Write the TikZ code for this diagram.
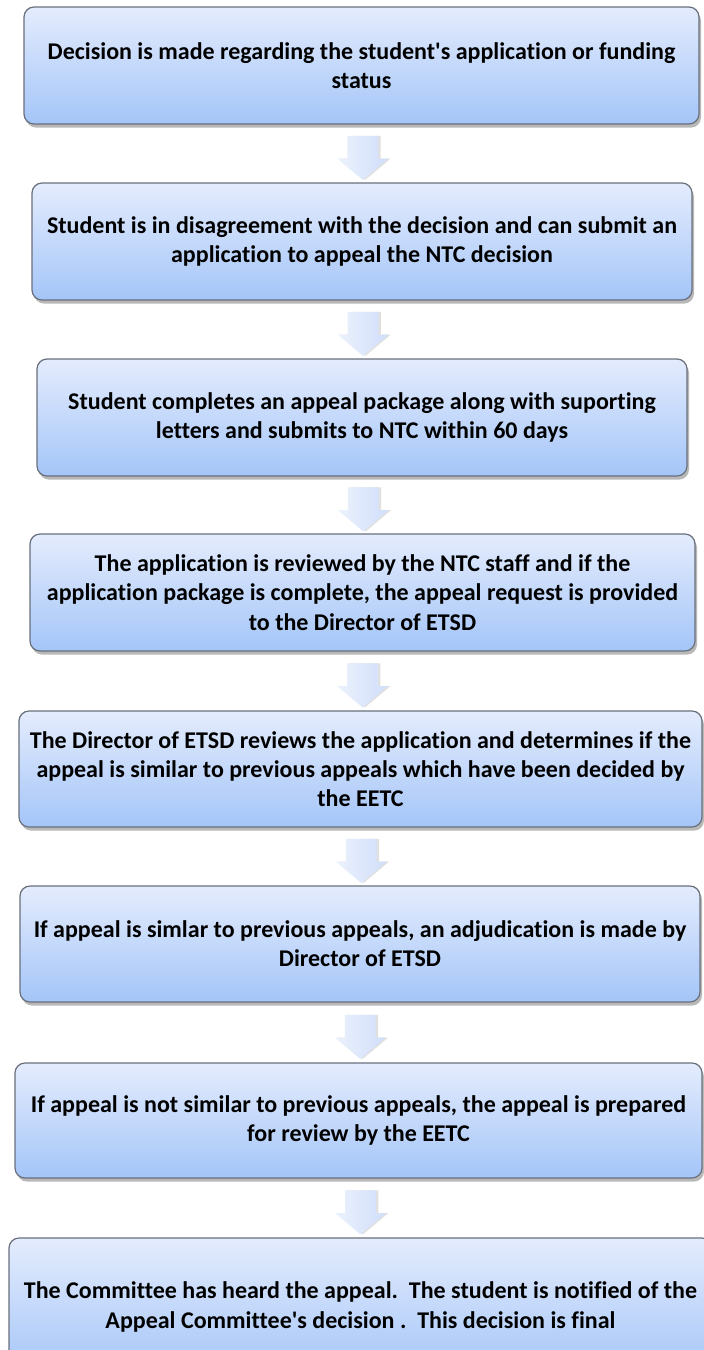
\documentclass[tikz,border=0pt]{standalone}
\usepackage{fontspec}
\setmainfont[Ligatures=NoCommon]{Carlito}
\usetikzlibrary{shapes.arrows,shadows,calc}
\definecolor{boxtop}{RGB}{228,236,253}
\definecolor{boxbot}{RGB}{164,197,248}
\definecolor{boxline}{RGB}{105,112,124}
\definecolor{arrtop}{RGB}{236,242,253}
\definecolor{arrbot}{RGB}{208,222,250}
\begin{document}
\begin{tikzpicture}[x=0.5pt,y=-0.5pt,
    stepbox/.style={draw=boxline, line width=0.6pt, rounded corners=5pt,
        top color=boxtop, bottom color=boxbot, align=center, inner sep=0pt,
        font=\fontsize{12}{14.6}\selectfont\bfseries,
        drop shadow={shadow xshift=1pt, shadow yshift=-1.8pt, opacity=.28, fill=black}},
    downarrow/.style={single arrow, rotate=-90, draw=none, inner xsep=0pt, inner ysep=7.5pt,
        minimum width=0pt, minimum height=22pt, single arrow head extend=5pt,
        single arrow tip angle=100, left color=arrtop, right color=arrbot,
        drop shadow={shadow xshift=1.2pt, shadow yshift=0pt, opacity=.12, fill=black}}]
    \useasboundingbox (0,0) rectangle (704,1350);
    % the eight steps
    \node[stepbox, minimum width=337.5pt, minimum height=58.5pt] (b1) at (361.5,65.5)
        {Decision is made regarding the student\textquotesingle s application or funding\\status};
    \node[stepbox, minimum width=330pt, minimum height=58.5pt] (b2) at (362,241.5)
        {Student is in disagreement with the decision and can submit an\\application to appeal the NTC decision};
    \node[stepbox, minimum width=325pt, minimum height=58.5pt] (b3) at (362,417.5)
        {Student completes an appeal package along with suporting\\letters and submits to NTC within 60 days};
    \node[stepbox, minimum width=332.5pt, minimum height=58.5pt] (b4) at (362.5,592.5)
        {The application is reviewed by the NTC staff and if the\\application package is complete, the appeal request is provided\\to the Director of ETSD};
    \node[stepbox, minimum width=341.5pt, minimum height=58pt] (b5) at (360.5,769)
        {The Director of ETSD reviews the application and determines if the\\appeal is similar to previous appeals which have been decided by\\the EETC};
    \node[stepbox, minimum width=340pt, minimum height=58pt] (b6) at (360,944)
        {If appeal is simlar to previous appeals, an adjudication is made by\\Director of ETSD};
    \node[stepbox, minimum width=343.5pt, minimum height=57.5pt] (b7) at (358.5,1120.5)
        {If appeal is not similar to previous appeals, the appeal is prepared\\for review by the EETC};
    \node[stepbox, minimum width=351.5pt, minimum height=69pt] (b8) at (360.5,1307)
        {The Committee has heard the appeal.\ \ The student is notified of the\\Appeal Committee\textquotesingle s decision .\ \ This decision is final};
    % block arrows between the steps
    \foreach \a/\b in {b1/b2,b2/b3,b3/b4,b4/b5,b5/b6,b6/b7,b7/b8}
        \node[downarrow] (\a\b) at ($(\a.south)!.5!(\b.north)+(1,-2)$) {};
\end{tikzpicture}
\end{document}
